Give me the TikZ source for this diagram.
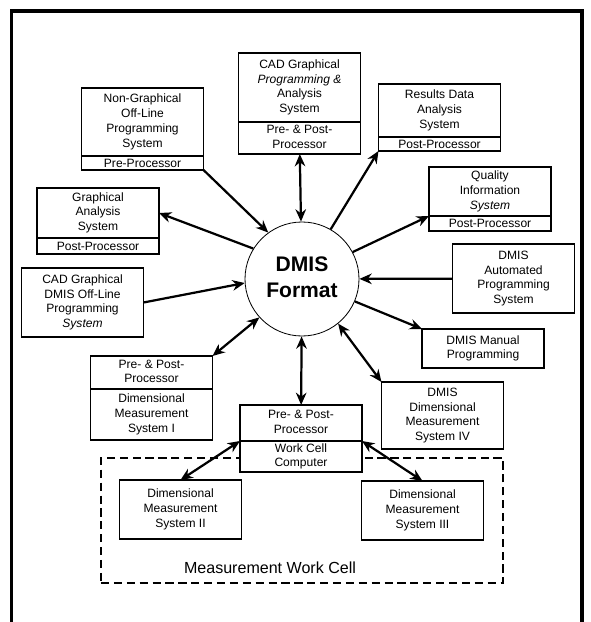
\documentclass[tikz,border=0pt]{standalone}
\usepackage{fontspec}
\setmainfont{Liberation Sans}
\usetikzlibrary{positioning,arrows.meta}

\begin{document}
\begin{tikzpicture}[x=0.03cm,y=-0.03cm,>={Stealth[length=10.5pt,width=9pt]},
		every node/.style={font=\fontsize{10.3}{12.7}\selectfont},
		unit/.style={draw,fill=white,line width=1.3pt,outer sep=0pt,inner sep=0pt,minimum width=3.66cm},
		hub/.style={draw,circle,line width=0.7pt,minimum size=3.42cm,font=\fontsize{18}{22}\selectfont\bfseries},
		link/.style={line width=1.9pt},
		]
		\useasboundingbox (0,0) rectangle (590,622);
		
		% Frame
		\draw[line width=3pt] (11.5,622) -- (11.5,11) -- (582,11) -- (582,622);
		
		% Work cell
		\node[draw,dashed,line width=1.3pt,dash pattern=on 7pt off 4pt,minimum width=12.06cm,minimum height=3.75cm] (cell) at (302,520.5) {};
		\node[font=\fontsize{13.7}{16}\selectfont] (celltitle) at (270,568) {Measurement Work Cell};
		
		% Centre
		\node[hub] (dmis) at (302,279)
		{
			\begin{tabular}{c}
				DMIS\\Format
			\end{tabular}
		};
		
		% Upper systems
		\node[unit,minimum height=2.04cm] (ng) at (142.5,122)
		{
			\begin{tabular}{c}
				Non-Graphical\\Off-Line\\Programming\\System
			\end{tabular}
		};
		\node[unit,minimum height=0.42cm,below=0pt of ng] (ngpre) {Pre-Processor};
		
		\node[unit,minimum height=2.07cm] (cadp) at (299.5,87.5)
		{
			\begin{tabular}{c}
				CAD Graphical\\\textit{Programming \&}\\Analysis\\System
			\end{tabular}
		};
		\node[unit,minimum height=0.96cm,below=0pt of cadp] (cadpsub)
		{
			\begin{tabular}{c}
				Pre- \& Post-\\Processor
			\end{tabular}
		};
		
		\node[unit,minimum height=1.59cm] (res) at (439.5,110.5)
		{
			\begin{tabular}{c}
				Results Data\\Analysis\\System
			\end{tabular}
		};
		\node[unit,minimum height=0.42cm,below=0pt of res] (ressub) {Post-Processor};
		
		\node[unit,minimum height=1.47cm] (qual) at (490,191.5)
		{
			\begin{tabular}{c}
				Quality\\Information\\\textit{System}
			\end{tabular}
		};
		\node[unit,minimum height=0.45cm,below=0pt of qual] (qualsub) {Post-Processor};
		
		\node[unit,minimum height=1.5cm] (gas) at (98,213)
		{
			\begin{tabular}{c}
				Graphical\\Analysis\\System
			\end{tabular}
		};
		\node[unit,minimum height=0.48cm,below=0pt of gas] (gassub) {Post-Processor};
		
		% Side systems
		\node[unit,minimum height=2.07cm] (cadd) at (82.5,302.5)
		{
			\begin{tabular}{c}
				CAD Graphical\\DMIS Off-Line\\Programming\\\textit{System}
			\end{tabular}
		};
		
		\node[unit,minimum height=2.07cm] (auto) at (513.5,278.5)
		{
			\begin{tabular}{c}
				DMIS\\Automated\\Programming\\System
			\end{tabular}
		};
		
		\node[unit,minimum height=1.17cm] (man) at (483,348.5)
		{
			\begin{tabular}{c}
				DMIS Manual\\Programming
			\end{tabular}
		};
		
		% Lower systems
		\node[unit,minimum height=2.01cm] (dms4) at (442.5,415.5)
		{
			\begin{tabular}{c}
				DMIS\\Dimensional\\Measurement\\System IV
			\end{tabular}
		};
		
		\node[unit,minimum height=0.99cm] (dms1pre) at (151.5,372.5)
		{
			\begin{tabular}{c}
				Pre- \& Post-\\Processor
			\end{tabular}
		};
		\node[unit,minimum height=1.53cm,below=0pt of dms1pre] (dms1)
		{
			\begin{tabular}{c}
				Dimensional\\Measurement\\System I
			\end{tabular}
		};
		
		\node[unit,minimum height=1.08cm] (wccpre) at (301,423)
		{
			\begin{tabular}{c}
				Pre- \& Post-\\Processor
			\end{tabular}
		};
		\node[unit,minimum height=0.93cm,below=0pt of wccpre] (wcc)
		{
			\begin{tabular}{c}
				Work Cell\\Computer
			\end{tabular}
		};
		
		\node[unit,minimum height=1.77cm] (dms2) at (180.5,509.5)
		{
			\begin{tabular}{c}
				Dimensional\\Measurement\\System II
			\end{tabular}
		};
		
		\node[unit,minimum height=1.77cm] (dms3) at (422.5,510.5)
		{
			\begin{tabular}{c}
				Dimensional\\Measurement\\System III
			\end{tabular}
		};
		
		% Links
		\draw[link,->] (ngpre.south east) -- (dmis.126);
		\draw[link,<->] (cadpsub) -- (dmis);
		\draw[link,->] (dmis.60) -- (ressub.south west);
		\draw[link,->] (dmis.28) -- (qualsub.north west);
		\draw[link,->] (auto) -- (dmis);
		\draw[link,->] (dmis.337) -- (man.north west);
		\draw[link,<->] (dmis.309) -- (dms4.north west);
		\draw[link,<->] (dmis) -- (wccpre);
		\draw[link,<->] (dmis.222) -- (dms1pre.north east);
		\draw[link,->] (cadd.east) -- (dmis.184);
		\draw[link,->] (dmis.148) -- (gas.east);
		\draw[link,<->] (wccpre.south west) -- (dms2.north);
		\draw[link,<->] (wccpre.south east) -- (dms3.north);
		
	\end{tikzpicture}
\end{document}
